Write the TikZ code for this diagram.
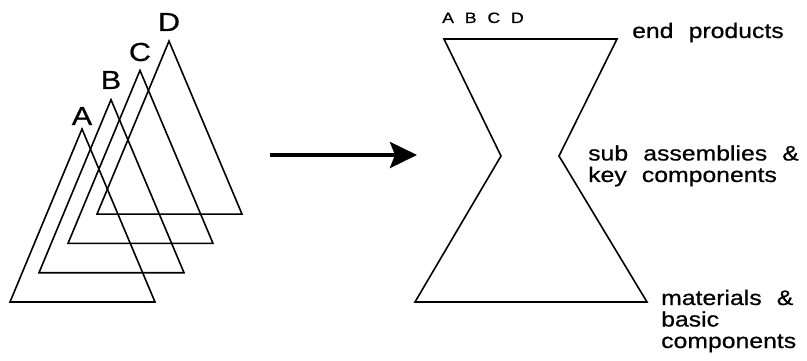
\documentclass[tikz,border=0pt]{standalone}
\usepackage{fontspec}
\newfontfamily\lblfont[FakeStretch=1.18,WordSpace=2.2,FakeBold=0.6]{Liberation Sans}
\usetikzlibrary{arrows.meta}
\tikzset{
  outline/.style={
    line width=1.6pt, line join=miter
  },
  trilabel/.style={
    font=\lblfont\fontsize{26}{28}\selectfont, inner sep=0pt
  },
  levellabel/.style={
    font=\lblfont\fontsize{21}{21.5}\selectfont, align=left,
    inner sep=0pt, anchor=base west
  },
  productlabel/.style={
    font=\lblfont\fontsize{15}{16}\selectfont, inner sep=0pt,
    anchor=base west
  },
  shiftarrow/.style={
    -{Stealth[length=27pt,width=26pt,inset=5pt]}, line width=4pt
  },
}

\begin{document}
\begin{tikzpicture}[x=1pt, y=-1pt]
  \useasboundingbox (0,0) rectangle (807,361);

  % Overlapping product triangles
  \foreach \i/\lab/\ly in {0/A/116, 1/B/80, 2/C/52, 3/D/22} {
    \draw[outline]
      (82+29*\i, 129-29.3*\i) -- (155+29*\i, 302-29.3*\i)
      -- (10+29*\i, 302-29.3*\i) -- cycle;
    \node[trilabel] (lbl\lab) at (82+29*\i, \ly) {\lab};
  }

  % Arrow
  \coordinate (arrowstart) at (270,155);
  \coordinate (arrowend) at (417,155);
  \draw[shiftarrow] (arrowstart) -- (arrowend);

  % Hourglass
  \draw[outline]
    (444,39) -- (617,39) -- (559,156) -- (647,302)
    -- (415,302) -- (501,156) -- cycle;
  \node[productlabel] (products) at (442,23) {A B C D};

  % Level labels (base anchor sits on the last line)
  \node[levellabel] (endprod) at (632,38) {end products};
  \node[levellabel] (subassy) at (588,182) {sub assemblies \&\\key components};
  \node[levellabel] (material) at (661,348) {materials \&\\basic\\components};
\end{tikzpicture}
\end{document}
